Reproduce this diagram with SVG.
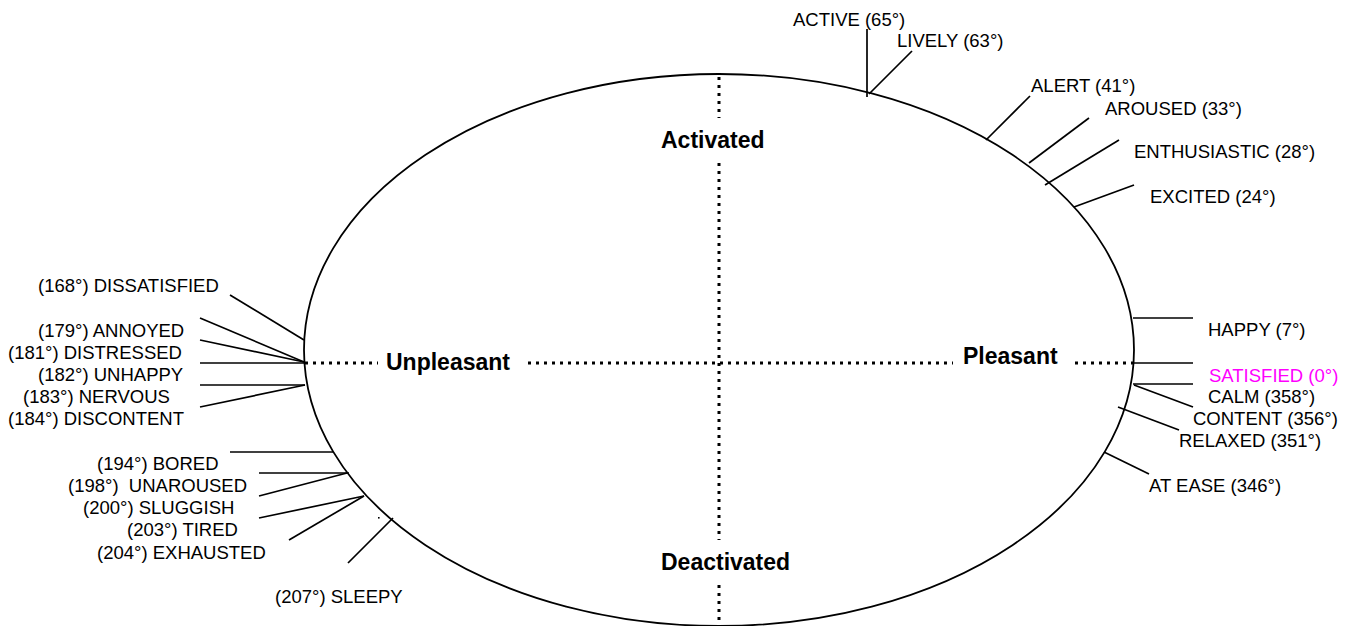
<svg xmlns="http://www.w3.org/2000/svg" width="1356" height="626" viewBox="0 0 1356 626">
<style>
.t{font-family:"Liberation Sans",Arial,sans-serif;font-size:18.5px;fill:#000}
.m{fill:#ff00ff}
.b{font-family:"Liberation Sans",Arial,sans-serif;font-size:23px;font-weight:bold;fill:#000}
.ln{stroke:#000;stroke-width:1.7;fill:none}
.dot{stroke:#000;stroke-width:3;stroke-dasharray:3 5;fill:none}
</style>
<rect width="1356" height="626" fill="#fff"/>
<g id="circumplex">
<ellipse cx="719" cy="350" rx="415" ry="276" fill="none" stroke="#000" stroke-width="1.8"/>
</g>
<g id="axes">
<line class="dot" x1="719" y1="77" x2="719" y2="118"/>
<line class="dot" x1="719" y1="163" x2="719" y2="540"/>
<line class="dot" x1="719" y1="585" x2="719" y2="626"/>
<line class="dot" x1="305" y1="363" x2="378" y2="363"/>
<line class="dot" x1="528" y1="363" x2="953" y2="363"/>
<line class="dot" x1="1075" y1="363" x2="1133" y2="363"/>
<text id="activated" class="b" x="661" y="148">Activated</text>
<text id="deactivated" class="b" x="661" y="570">Deactivated</text>
<text id="unpleasant" class="b" x="386" y="370">Unpleasant</text>
<text id="pleasant" class="b" x="963" y="364">Pleasant</text>
</g>
<g id="connectors">
<line class="ln" x1="867" y1="29" x2="867" y2="97"/>
<line class="ln" x1="912" y1="51" x2="869" y2="94"/>
<line class="ln" x1="1030" y1="96" x2="986" y2="140"/>
<line class="ln" x1="1089" y1="118" x2="1029" y2="163"/>
<line class="ln" x1="1119" y1="140" x2="1045" y2="185"/>
<line class="ln" x1="1134" y1="185" x2="1074" y2="207"/>
<line class="ln" x1="1133" y1="318" x2="1193" y2="318"/>
<line class="ln" x1="1133" y1="363" x2="1193" y2="363"/>
<line class="ln" x1="1133" y1="384" x2="1193" y2="384"/>
<line class="ln" x1="1134" y1="385" x2="1193" y2="407"/>
<line class="ln" x1="1118" y1="407" x2="1179" y2="430"/>
<line class="ln" x1="1104" y1="452" x2="1149" y2="474"/>
<line class="ln" x1="230" y1="295" x2="304" y2="340"/>
<line class="ln" x1="200" y1="318" x2="304" y2="362"/>
<line class="ln" x1="200" y1="340" x2="304" y2="362"/>
<line class="ln" x1="200" y1="363" x2="304" y2="363"/>
<line class="ln" x1="200" y1="385" x2="305" y2="385"/>
<line class="ln" x1="200" y1="407" x2="305" y2="385"/>
<line class="ln" x1="230" y1="452" x2="333" y2="452"/>
<line class="ln" x1="259" y1="473" x2="349" y2="473"/>
<line class="ln" x1="259" y1="496" x2="347" y2="473"/>
<line class="ln" x1="259" y1="518" x2="364" y2="496"/>
<line class="ln" x1="289" y1="540" x2="364" y2="496"/>
<line class="ln" x1="348" y1="563" x2="393" y2="518"/>
<rect x="378" y="517" width="1.6" height="1.6" fill="#000"/>
</g>
<g id="active"><text class="t" x="793" y="26">ACTIVE (65°)</text></g>
<g id="lively"><text class="t" x="897" y="47">LIVELY (63°)</text></g>
<g id="alert"><text class="t" x="1031" y="92">ALERT (41°)</text></g>
<g id="aroused"><text class="t" x="1105" y="115">AROUSED (33°)</text></g>
<g id="enthusiastic"><text class="t" x="1134" y="158">ENTHUSIASTIC (28°)</text></g>
<g id="excited"><text class="t" x="1150" y="203">EXCITED (24°)</text></g>
<g id="happy"><text class="t" x="1208" y="336">HAPPY (7°)</text></g>
<g id="satisfied"><text class="t m" x="1209" y="382">SATISFIED (0°)</text></g>
<g id="calm"><text class="t" x="1208" y="403">CALM (358°)</text></g>
<g id="content"><text class="t" x="1193" y="425">CONTENT (356°)</text></g>
<g id="relaxed"><text class="t" x="1179" y="447">RELAXED (351°)</text></g>
<g id="atease"><text class="t" x="1149" y="492">AT EASE (346°)</text></g>
<g id="dissatisfied"><text class="t" x="38" y="292">(168°) DISSATISFIED</text></g>
<g id="annoyed"><text class="t" x="38" y="337">(179°) ANNOYED</text></g>
<g id="distressed"><text class="t" x="8" y="359">(181°) DISTRESSED</text></g>
<g id="unhappy"><text class="t" x="38" y="381">(182°) UNHAPPY</text></g>
<g id="nervous"><text class="t" x="23" y="403">(183°) NERVOUS</text></g>
<g id="discontent"><text class="t" x="8" y="425">(184°) DISCONTENT</text></g>
<g id="bored"><text class="t" x="97" y="470">(194°) BORED</text></g>
<g id="unaroused"><text class="t" x="68" y="492" xml:space="preserve">(198°)  UNAROUSED</text></g>
<g id="sluggish"><text class="t" x="83" y="514">(200°) SLUGGISH</text></g>
<g id="tired"><text class="t" x="127" y="536">(203°) TIRED</text></g>
<g id="exhausted"><text class="t" x="97" y="559">(204°) EXHAUSTED</text></g>
<g id="sleepy"><text class="t" x="275" y="603">(207°) SLEEPY</text></g>
</svg>
